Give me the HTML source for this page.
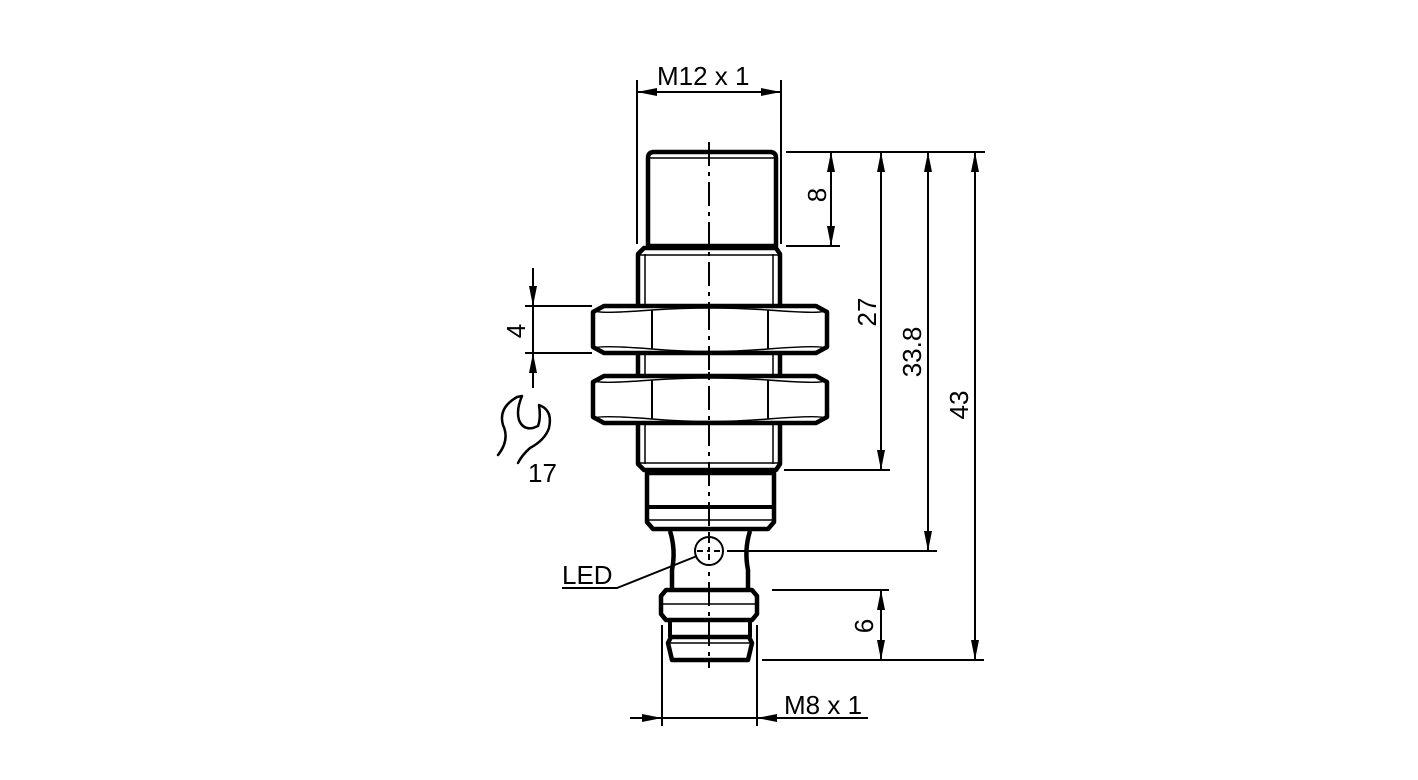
<!DOCTYPE html>
<html><head><meta charset="utf-8"><style>
html,body{margin:0;padding:0;background:#fff;}
svg{display:block;}
text{font-family:"Liberation Sans",Arial,sans-serif;font-size:26px;fill:#000;}
</style></head><body>
<svg width="1418" height="780" viewBox="0 0 1418 780" xmlns="http://www.w3.org/2000/svg">
<defs>
<marker id="a" viewBox="0 0 20 8" refX="20" refY="4" markerWidth="20" markerHeight="8" markerUnits="userSpaceOnUse" orient="auto-start-reverse"><path d="M0,0 L20,4 L0,8 Z" fill="#000"/></marker>
</defs>
<g fill="none" stroke="#000" stroke-linejoin="round">
<line x1="709" y1="142" x2="709" y2="668" stroke-width="2" stroke-dasharray="24,6,4,6"/>
<path d="M654,152 H770 Q776,152 776,158 V246 H648 V158 Q648,152 654,152 Z" stroke-width="4.5"/>
<line x1="650" y1="158" x2="774" y2="158" stroke-width="1.5"/>
<path d="M644,248 H776 L780,254 V464 L776,470 H644 L638,464 V254 Z" stroke-width="4.5"/>
<line x1="645" y1="254" x2="645" y2="464" stroke-width="1.5"/>
<line x1="773" y1="254" x2="773" y2="464" stroke-width="1.5"/>
<line x1="640" y1="255" x2="778" y2="255" stroke-width="1.5"/>
<line x1="640" y1="463" x2="778" y2="463" stroke-width="1.5"/>
<g stroke-width="4.5" fill="#fff">
<path d="M604,306 H816 L827,312 V347 L816,353 H604 L593,347 V312 Z"/>
<path d="M604,376 H816 L827,382 V417 L816,423 H604 L593,417 V382 Z"/>
</g>
<g stroke-width="2">
<line x1="652" y1="310" x2="652" y2="349"/><line x1="768" y1="310" x2="768" y2="349"/>
<line x1="652" y1="380" x2="652" y2="419"/><line x1="768" y1="380" x2="768" y2="419"/>
<path d="M596,311 Q600,314 652,310 Q709,306 768,310 Q820,314 824,311" stroke-width="1.5"/>
<path d="M596,348 Q600,345 652,349 Q709,354 768,349 Q820,345 824,348" stroke-width="1.5"/>
<path d="M596,381 Q600,384 652,380 Q709,376 768,380 Q820,384 824,381" stroke-width="1.5"/>
<path d="M596,418 Q600,415 652,419 Q709,424 768,419 Q820,415 824,418" stroke-width="1.5"/>
</g>
<line x1="709" y1="306" x2="709" y2="423" stroke-width="2" stroke-dasharray="24,6,4,6"/>
<path d="M647,473 H774 V522 L768,529 H653 L647,522 Z" stroke-width="4.5"/>
<line x1="647" y1="507" x2="774" y2="507" stroke-width="4"/>
<line x1="649" y1="520" x2="772" y2="520" stroke-width="1.5"/>
<path d="M670,531 Q676,550 672,570 V590 M750,531 Q744,550 748,570 V590" stroke-width="4.5"/>
<path d="M666,590 H752 L757,596 V614 L752,620 H666 L661,614 V596 Z" stroke-width="4.5"/>
<line x1="661" y1="604" x2="757" y2="604" stroke-width="1.5"/>
<path d="M670,620 V637 M750,620 V637" stroke-width="4"/>
<path d="M671,637 H749 L752,643 L748,660 H672 L668,643 Z" stroke-width="4.5"/>
<line x1="670" y1="643" x2="750" y2="643" stroke-width="1.5"/>
<circle cx="709" cy="551" r="14" stroke-width="2" fill="#fff"/>
<line x1="709" y1="537" x2="709" y2="565" stroke-width="2" stroke-dasharray="6,4,3,4"/>
<line x1="697" y1="551" x2="721" y2="551" stroke-width="2" stroke-dasharray="6,4,3,4"/>
<polyline points="562,588 617,588 697,556" stroke-width="2"/>
<g stroke-width="2">
<line x1="637" y1="80" x2="637" y2="244"/><line x1="781" y1="80" x2="781" y2="244"/>
<line x1="637" y1="92" x2="781" y2="92" marker-start="url(#a)" marker-end="url(#a)"/>
<line x1="786" y1="152" x2="985" y2="152"/>
<line x1="786" y1="246" x2="840" y2="246"/>
<line x1="784" y1="470" x2="890" y2="470"/>
<line x1="727" y1="551" x2="937" y2="551"/>
<line x1="772" y1="590" x2="889" y2="590"/>
<line x1="762" y1="660" x2="984" y2="660"/>
<line x1="831" y1="152" x2="831" y2="246" marker-start="url(#a)" marker-end="url(#a)"/>
<line x1="881" y1="152" x2="881" y2="470" marker-start="url(#a)" marker-end="url(#a)"/>
<line x1="928" y1="152" x2="928" y2="551" marker-start="url(#a)" marker-end="url(#a)"/>
<line x1="975" y1="152" x2="975" y2="660" marker-start="url(#a)" marker-end="url(#a)"/>
<line x1="881" y1="590" x2="881" y2="660" marker-start="url(#a)" marker-end="url(#a)"/>
<line x1="525" y1="306" x2="592" y2="306"/><line x1="525" y1="353" x2="592" y2="353"/>
<line x1="533" y1="268" x2="533" y2="306" marker-end="url(#a)"/>
<line x1="533" y1="306" x2="533" y2="353"/>
<line x1="533" y1="388" x2="533" y2="353" marker-end="url(#a)"/>
<line x1="662" y1="625" x2="662" y2="726"/><line x1="757" y1="625" x2="757" y2="726"/>
<line x1="630" y1="718" x2="662" y2="718" marker-end="url(#a)"/>
<line x1="662" y1="718" x2="757" y2="718"/>
<line x1="868" y1="718" x2="757" y2="718" marker-end="url(#a)"/>
</g>
<path d="M498,455 Q510,440 503,425 Q498,408 517,397 L522,396 Q516,410 519,420 Q523,430 533,428 L538,426 Q541,418 539,405 Q553,410 549,428 Q545,440 530,448 Q522,455 518,463" stroke-width="2.5" stroke-linecap="round"/>
</g>
<text x="657" y="85">M12 x 1</text>
<text x="784" y="714">M8 x 1</text>
<text x="562" y="584">LED</text>
<text x="528" y="482">17</text>
<text transform="translate(826,195) rotate(-90)" text-anchor="middle">8</text>
<text transform="translate(876,312) rotate(-90)" text-anchor="middle">27</text>
<text transform="translate(921,352) rotate(-90)" text-anchor="middle">33.8</text>
<text transform="translate(968,405) rotate(-90)" text-anchor="middle">43</text>
<text transform="translate(873,626) rotate(-90)" text-anchor="middle">6</text>
<text transform="translate(525,331) rotate(-90)" text-anchor="middle">4</text>
</svg>
</body></html>
